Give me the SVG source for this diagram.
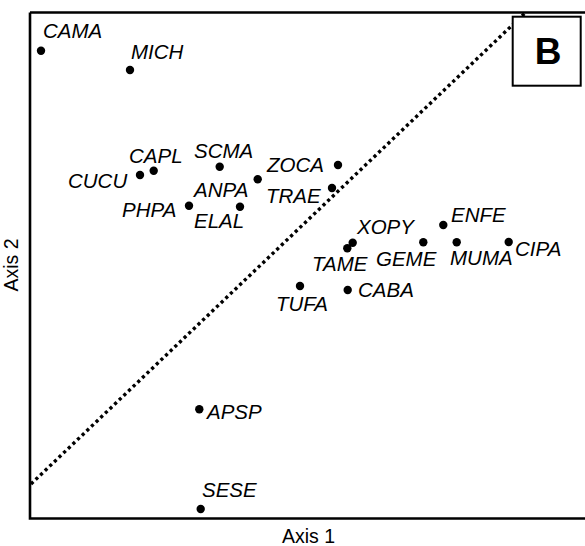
<svg xmlns="http://www.w3.org/2000/svg" width="585" height="546" viewBox="0 0 585 546">
<style>
.lbl{font-family:"Liberation Sans",Arial,sans-serif;font-style:italic;font-size:20.5px;fill:#000}
.ax{font-family:"Liberation Sans",Arial,sans-serif;font-size:19.5px;fill:#000}
.dot{fill:#000}
.frame{fill:none;stroke:#000;stroke-width:2.6}
</style>
<rect width="585" height="546" fill="#fff"/>
<path class="frame" d="M30,12.5 H585 M30,12.5 V518.5 H585"/>
<g id="connectors">
<line x1="31" y1="484" x2="525" y2="13" stroke="#000" stroke-width="3.4" stroke-dasharray="3.2 3.2"/>
</g>
<g id="CAMA"><circle class="dot" cx="41" cy="50.7" r="4.2"/><text class="lbl" x="43" y="38">CAMA</text></g>
<g id="MICH"><circle class="dot" cx="130" cy="70" r="4.2"/><text class="lbl" x="131" y="59">MICH</text></g>
<g id="CAPL"><circle class="dot" cx="153.7" cy="170.7" r="4.2"/><text class="lbl" x="129" y="163">CAPL</text></g>
<g id="CUCU"><circle class="dot" cx="140" cy="175" r="4.2"/><text class="lbl" x="68" y="188">CUCU</text></g>
<g id="SCMA"><circle class="dot" cx="219.7" cy="166.7" r="4.2"/><text class="lbl" x="194" y="158">SCMA</text></g>
<g id="ZOCA"><circle class="dot" cx="338" cy="165" r="4.2"/><text class="lbl" x="267" y="172">ZOCA</text></g>
<g id="ANPA"><circle class="dot" cx="257.7" cy="179.3" r="4.2"/><text class="lbl" x="194" y="197">ANPA</text></g>
<g id="TRAE"><circle class="dot" cx="332" cy="188" r="4.2"/><text class="lbl" x="266" y="203">TRAE</text></g>
<g id="PHPA"><circle class="dot" cx="189" cy="205.7" r="4.2"/><text class="lbl" x="122" y="217">PHPA</text></g>
<g id="ELAL"><circle class="dot" cx="240" cy="206.7" r="4.2"/><text class="lbl" x="194" y="228">ELAL</text></g>
<g id="XOPY"><circle class="dot" cx="352.7" cy="242.7" r="4.2"/><text class="lbl" x="357" y="234">XOPY</text></g>
<g id="TAME"><circle class="dot" cx="347.3" cy="248.3" r="4.2"/><text class="lbl" x="312" y="270.7">TAME</text></g>
<g id="ENFE"><circle class="dot" cx="443.3" cy="225" r="4.2"/><text class="lbl" x="451" y="221.7">ENFE</text></g>
<g id="GEME"><circle class="dot" cx="423.3" cy="242.3" r="4.2"/><text class="lbl" x="376" y="265.7">GEME</text></g>
<g id="MUMA"><circle class="dot" cx="456.7" cy="242.3" r="4.2"/><text class="lbl" x="450" y="265">MUMA</text></g>
<g id="CIPA"><circle class="dot" cx="508.7" cy="242" r="4.2"/><text class="lbl" x="515" y="255.7">CIPA</text></g>
<g id="TUFA"><circle class="dot" cx="300" cy="286" r="4.2"/><text class="lbl" x="276" y="310.7">TUFA</text></g>
<g id="CABA"><circle class="dot" cx="347.7" cy="290" r="4.2"/><text class="lbl" x="358" y="297">CABA</text></g>
<g id="APSP"><circle class="dot" cx="199.3" cy="409.3" r="4.2"/><text class="lbl" x="207" y="419">APSP</text></g>
<g id="SESE"><circle class="dot" cx="200.7" cy="509" r="4.2"/><text class="lbl" x="202" y="497">SESE</text></g>
<g id="panelB">
<rect x="512.7" y="16.7" width="68" height="69" fill="#fff" stroke="#000" stroke-width="2"/>
<text x="548" y="64" text-anchor="middle" font-family="Liberation Sans,Arial,sans-serif" font-weight="bold" font-size="37">B</text>
</g>
<text class="ax" x="282" y="543">Axis 1</text>
<text class="ax" transform="translate(18,265) rotate(-90)" text-anchor="middle">Axis 2</text>
</svg>
